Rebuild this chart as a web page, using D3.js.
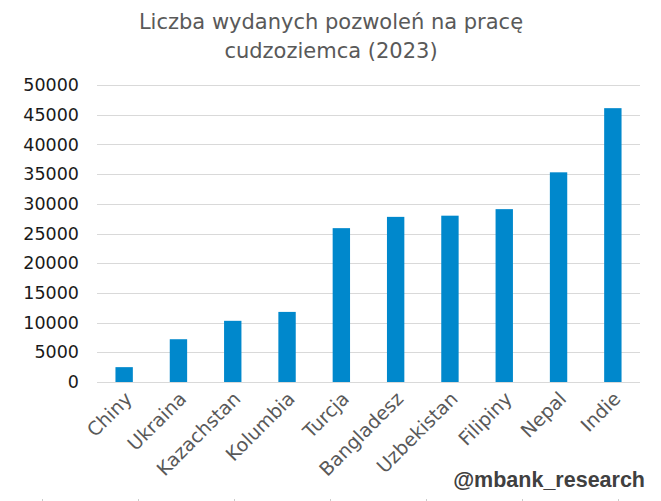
<!DOCTYPE html>
<html>
<head>
<meta charset="utf-8">
<script src="https://cdn.jsdelivr.net/npm/d3@7/dist/d3.min.js"></script>
<style>
  html, body { margin: 0; padding: 0; background: #fff; }
  svg { display: block; }
</style>
</head>
<body>
<svg id="chart" width="661" height="501"></svg>
<script>
const categories = ["Chiny", "Ukraina", "Kazachstan", "Kolumbia", "Turcja", "Bangladesz", "Uzbekistan", "Filipiny", "Nepal", "Indie"];
const values = [2500, 7200, 10300, 11800, 25900, 27800, 28000, 29100, 35300, 46100];
const yTicks = [0, 5000, 10000, 15000, 20000, 25000, 30000, 35000, 40000, 45000, 50000];
const titleLines = ["Liczba wydanych pozwoleń na pracę", "cudzoziemca (2023)"];
const watermark = "@mbank_research";

const svg = d3.select("#chart");
const W = 661, H = 501;
const m = { left: 97, right: 21, top: 85, bottom: 119 };

svg.append("rect").attr("width", W).attr("height", H).attr("fill", "#fff");

const x = d3.scaleBand().domain(categories).range([m.left, W - m.right]).paddingInner(0.68).paddingOuter(0.34);
const y = d3.scaleLinear().domain([0, 50000]).range([H - m.bottom, m.top]);

// gridlines
svg.append("g").selectAll("line").data(yTicks).join("line")
  .attr("x1", m.left).attr("x2", W - m.right)
  .attr("y1", d => Math.round(y(d)) + 0.5).attr("y2", d => Math.round(y(d)) + 0.5)
  .attr("stroke", "#d9d9d9").attr("stroke-width", 1);

// y axis labels
const yAxis = d3.axisLeft(y).tickValues(yTicks).tickSize(0).tickPadding(18).tickFormat(d3.format("d"));
const gy = svg.append("g").attr("transform", `translate(${m.left},0)`).call(yAxis);
gy.select(".domain").remove();
gy.selectAll("text").attr("font-family", "DejaVu Sans, Verdana, sans-serif").attr("font-size", 17.5).attr("fill", "#1a1a1a");

// bars
svg.append("g").selectAll("rect").data(values).join("rect")
  .attr("x", (d, i) => x(categories[i]))
  .attr("width", x.bandwidth())
  .attr("y", d => y(d))
  .attr("height", d => y(0) - y(d))
  .attr("fill", "#0088cc");

// x labels
const xAxis = d3.axisBottom(x).tickSize(0).tickPadding(0);
const gx = svg.append("g").attr("transform", `translate(0,${y(0)})`).call(xAxis);
gx.select(".domain").remove();
gx.selectAll(".tick text")
  .attr("font-family", "DejaVu Sans, Verdana, sans-serif").attr("font-size", 19).attr("fill", "#595959")
  .attr("text-anchor", "end")
  .attr("dy", null).attr("y", null)
  .attr("transform", "translate(9,18) rotate(-45)");

// title
svg.append("g").selectAll("text").data(titleLines).join("text")
  .attr("x", 331).attr("y", (d, i) => 29 + i * 29)
  .attr("text-anchor", "middle")
  .attr("font-family", "DejaVu Sans, Verdana, sans-serif").attr("font-size", 21).attr("fill", "#595959")
  .text(d => d);

// watermark
svg.append("text").attr("x", 645).attr("y", 487).attr("text-anchor", "end")
  .attr("font-family", "Liberation Sans, Arial, sans-serif").attr("font-weight", "bold")
  .attr("font-size", 21.5).attr("fill", "#404040").text(watermark);

// faint marks along bottom edge
svg.append("g").selectAll("rect").data(d3.range(7)).join("rect")
  .attr("x", d => 42 + d * 96).attr("y", 499).attr("width", 1).attr("height", 2)
  .attr("fill", "#cccccc");
</script>
</body>
</html>
